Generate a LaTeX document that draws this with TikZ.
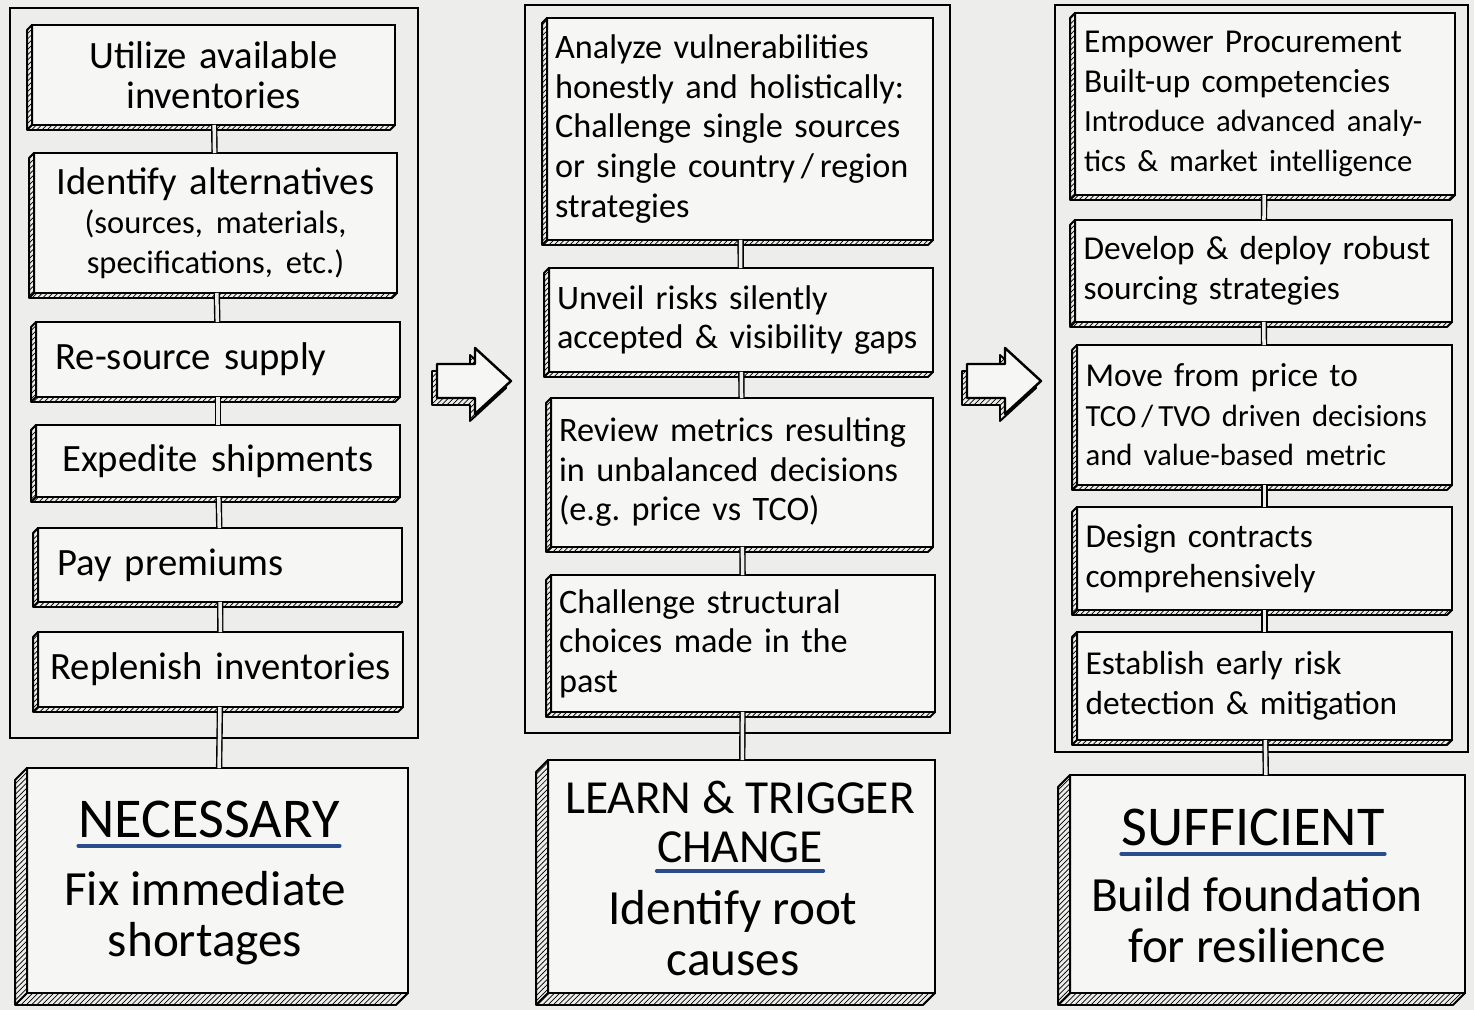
\documentclass[tikz,border=0pt]{standalone}
\usepackage{fontspec}
\setmainfont{Carlito}
\usetikzlibrary{calc,patterns}
\frenchspacing

\definecolor{paper}{rgb}{0.93,0.93,0.92}
\definecolor{boxfill}{rgb}{0.965,0.965,0.96}
\definecolor{penblue}{rgb}{0.17,0.30,0.55}

\newcommand\lefttxt{\fontsize{22}{22.5}\selectfont}
\newcommand\coltxt{\fontsize{19.5}{22.5}\selectfont}
\newcommand\righttxt{\fontsize{19}{22.5}\selectfont}
\newcommand\smalltxt{\fontsize{18.5}{20}\selectfont}
\newcommand\tinytxt{\fontsize{17.5}{20}\selectfont}
\newcommand\headtxt{\fontsize{32}{34}\selectfont}
\newcommand\midhead{\fontsize{27}{28}\selectfont}
\newcommand\bodytxt{\fontsize{28}{29}\selectfont}

% slab edge below and left of a box
\newcommand\slab[2]{%
  \draw[lip] (#1.north west) -- ++(-#2,#2) |- ($(#1.south east)+(-#2,#2)$) -- (#1.south east) -- (#1.south west) -- cycle;
  \draw[line width=1.1pt] (#1.south west) -- ++(-#2,#2);}

% hollow arrow between the columns
\newcommand\hollowarrow[1]{%
  \begin{scope}[shift={#1}]
    \draw[lip] (-5,-10) -- (33,-10) -- (33,-26) -- (69,7) -- (33,40) -- (33,24) -- (-5,24) -- cycle;
    \draw[fill=boxfill, line width=1.4pt, line join=round] (0,-17) -- (38,-17) -- (38,-33) -- (74,0) -- (38,33) -- (38,17) -- (0,17) -- cycle;
  \end{scope}}

\begin{document}
\begin{tikzpicture}[x=0.02cm,y=-0.02cm,
  colframe/.style={draw, line width=1.6pt},
  item/.style={draw, fill=boxfill, line width=1.4pt, inner sep=0pt, outer sep=0pt,
    execute at begin node={\hyphenpenalty=10000}},
  footbox/.style={item, line width=1.6pt},
  lip/.style={draw, line width=1.1pt, pattern=north east lines, line join=round},
  link/.style={double=paper, double distance=2pt, line width=0.8pt},
  uline/.style={penblue, line width=2pt, line cap=round},
  head/.style={font=\headtxt, inner sep=0pt},
  body/.style={font=\bodytxt, align=center, inner sep=0pt}]

\fill[paper] (0,0) rectangle (1474,1010);
\useasboundingbox (0,0) rectangle (1474,1010);

% necessary
\draw[colframe] (10,8) rectangle (418,738);
\node[item, minimum width=7.26cm, minimum height=2cm, text width=6.9cm, align=center, font=\lefttxt] (L1) at (213.5,75) {Utilize available\\inventories};
\node[item, minimum width=7.26cm, minimum height=2.8cm, text width=6.9cm, align=center, font=\lefttxt] (L2) at (215.5,223) {Identify alternatives\\{\smalltxt (sources, materials,}\\{\smalltxt specifications, etc.)}};
\node[item, minimum width=7.28cm, minimum height=1.5cm, text width=6.5cm, align=left, font=\lefttxt] (L3) at (218,359.5) {Re-source supply};
\node[item, minimum width=7.28cm, minimum height=1.44cm, text width=6.9cm, align=center, font=\lefttxt] (L4) at (218,461) {Expedite shipments};
\node[item, minimum width=7.28cm, minimum height=1.48cm, text width=6.5cm, align=left, font=\lefttxt] (L5) at (220,565) {Pay premiums};
\node[item, minimum width=7.3cm, minimum height=1.5cm, text width=6.9cm, align=center, font=\lefttxt] (L6) at (220.5,669.5) {Replenish inventories};
\node[footbox, minimum width=7.62cm, minimum height=4.5cm] (LB) at (217.5,880.5) {};
\foreach \n in {L1,L2,L3,L4,L5,L6} {\slab{\n}{5}}
\slab{LB}{12}
\node[head, anchor=base] (LBhead) at (209,837) {NECESSARY};
\node[body] (LBtext) at (205,918) {Fix immediate\\shortages};
\draw[uline] ([yshift=-5pt]LBhead.base west) -- ([yshift=-5pt]LBhead.base east);
\draw[link] (L1) -- (L2);
\draw[link] (L2) -- (L3);
\draw[link] (L3) -- (L4);
\draw[link] (L4) -- (L5);
\draw[link] (L5) -- (L6);
\draw[link] (L6) -- (LB);

\hollowarrow{(437,381)}

% learn and trigger change
\draw[colframe] (525,5) rectangle (950,733);
\node[item, minimum width=7.72cm, minimum height=4.44cm, text width=7.4cm, align=left, font=\coltxt] (M1) at (740,129) {Analyze vulnerabilities\\honestly and holistically:\\Challenge single sources\\or single country\,/\,region\\strategies};
\node[item, minimum width=7.68cm, minimum height=2.08cm, text width=7.36cm, align=left, font=\coltxt] (M2) at (741,320) {Unveil risks silently\\accepted \& visibility gaps};
\node[item, minimum width=7.64cm, minimum height=2.98cm, text width=7.32cm, align=left, font=\coltxt] (M3) at (742,472.5) {Review metrics resulting\\in unbalanced decisions\\(e.g. price vs TCO)};
\node[item, minimum width=7.68cm, minimum height=2.74cm, text width=7.36cm, align=left, font=\coltxt] (M4) at (743,643.5) {Challenge structural\\choices made in the\\past};
\node[footbox, minimum width=7.74cm, minimum height=4.66cm] (MB) at (741.5,876.5) {};
\foreach \n in {M1,M2,M3,M4} {\slab{\n}{5}}
\slab{MB}{12}
\node[head, font=\midhead, anchor=base] (MBtop) at (740,813) {LEARN \& TRIGGER};
\node[head, font=\midhead, anchor=base] (MBhead) at (740,862) {CHANGE};
\node[body] (MBtext) at (733,933) {Identify root\\causes};
\draw[uline] ([yshift=-5pt]MBhead.base west) -- ([yshift=-5pt]MBhead.base east);
\draw[link] (M1) -- (M2);
\draw[link] (M2) -- (M3);
\draw[link] (M3) -- (M4);
\draw[link] (M4) -- (MB);

\hollowarrow{(967,381)}

% sufficient
\draw[colframe] (1055,5) rectangle (1468,752);
\node[item, minimum width=7.6cm, minimum height=3.64cm, text width=7.24cm, align=left, font=\righttxt] (R1) at (1265,104) {Empower Procurement\\Built-up competencies\\{\tinytxt Introduce advanced analy-}\\{\tinytxt tics \& market intelligence}};
\node[item, minimum width=7.54cm, minimum height=2.04cm, text width=7.2cm, align=left, font=\righttxt] (R2) at (1263.5,271) {Develop \& deploy robust\\sourcing strategies};
\node[item, minimum width=7.5cm, minimum height=2.8cm, text width=7.16cm, align=left, font=\righttxt] (R3) at (1264.5,415) {Move from price to\\{\tinytxt TCO\,/\,TVO driven decisions}\\{\tinytxt and value-based metric}};
\node[item, minimum width=7.5cm, minimum height=2.06cm, text width=7.16cm, align=left, font=\righttxt] (R4) at (1264.5,558.5) {Design contracts\\comprehensively};
\node[item, minimum width=7.5cm, minimum height=2.16cm, text width=7.16cm, align=left, font=\righttxt] (R5) at (1264.5,686) {Establish early risk\\detection \& mitigation};
\node[footbox, minimum width=7.9cm, minimum height=4.36cm] (RB) at (1267.5,884) {};
\foreach \n in {R1,R2,R3,R4,R5} {\slab{\n}{5}}
\slab{RB}{12}
\node[head, anchor=base] (RBhead) at (1253,845) {SUFFICIENT};
\node[body] (RBtext) at (1257,920) {Build foundation\\for resilience};
\draw[uline] ([yshift=-5pt]RBhead.base west) -- ([yshift=-5pt]RBhead.base east);
\draw[link] (R1) -- (R2);
\draw[link] (R2) -- (R3);
\draw[link] (R3) -- (R4);
\draw[link] (R4) -- (R5);
\draw[link] (R5) -- (RB);
\end{tikzpicture}
\end{document}
